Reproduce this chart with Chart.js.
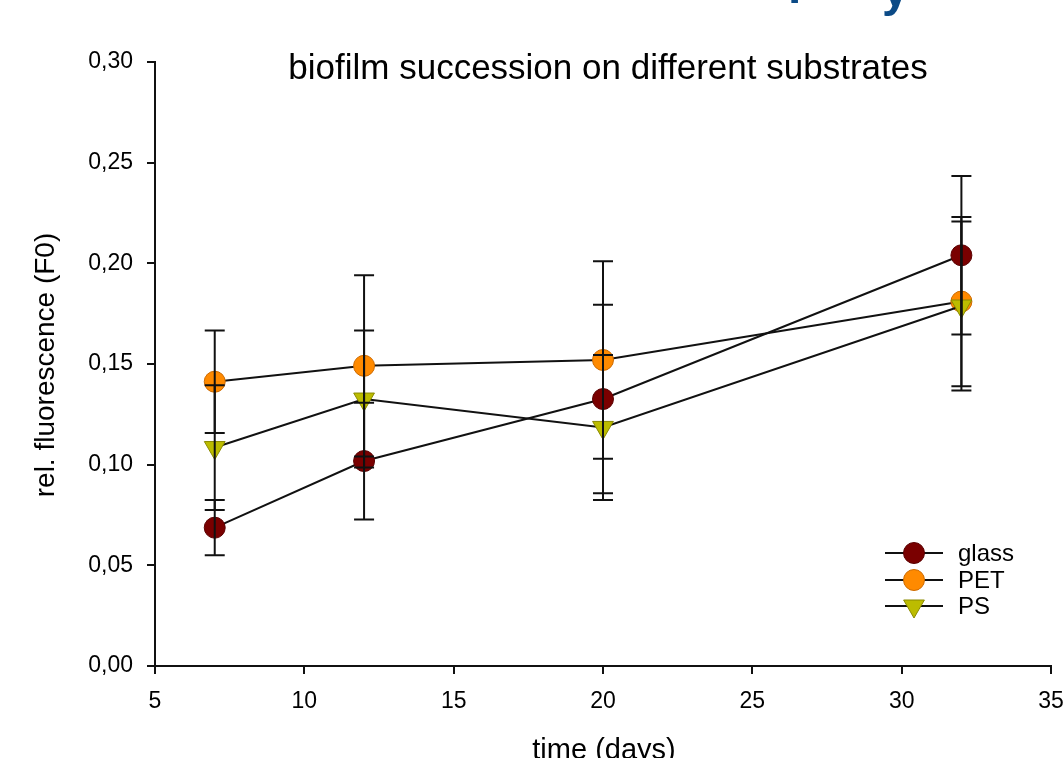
<!DOCTYPE html>
<html>
<head>
<meta charset="utf-8">
<script src="https://cdn.jsdelivr.net/npm/chart.js@4/dist/chart.umd.min.js"></script>
<style>
  html, body { margin: 0; padding: 0; background: #fff; }
  #wrap { position: relative; width: 1064px; height: 758px; overflow: hidden; }
</style>
</head>
<body>
<div id="wrap"><canvas id="line_chart" width="1064" height="758"></canvas></div>
<script>
// values
const days = [7, 12, 20, 32];
const glass = [0.0687, 0.1018, 0.1326, 0.204];
const glassErr = [0.0137, 0.029, 0.0468, 0.0394];
const pet = [0.1412, 0.1491, 0.152, 0.181];
const petErr = [0.0255, 0.045, 0.049, 0.042];
const ps = [0.1085, 0.1326, 0.1185, 0.1788];
const psErr = [0.031, 0.034, 0.036, 0.042];
const seriesNames = ['glass', 'PET', 'PS'];
const xTicks = [5, 10, 15, 20, 25, 30, 35];
const yTicks = [0, 0.05, 0.10, 0.15, 0.20, 0.25, 0.30];

const FONT = '"Liberation Sans", Arial, sans-serif';

function pts(vals) {
    return days.map((d, i) => ({ x: d, y: vals[i] }));
}

const errors = [glassErr, petErr, psErr];

// error bars + titles + legend, all drawn with the chart scales
const extras = {
    id: 'extras',
    afterDatasetsDraw(chart) {
        const ctx = chart.ctx;
        const xs = chart.scales.x, ys = chart.scales.y;
        ctx.save();
        ctx.strokeStyle = '#111';
        ctx.lineWidth = 2;
        chart.data.datasets.forEach((ds, i) => {
            ds.data.forEach((p, j) => {
                const e = errors[i][j];
                const x = xs.getPixelForValue(p.x);
                const y1 = ys.getPixelForValue(p.y + e);
                const y2 = ys.getPixelForValue(p.y - e);
                ctx.beginPath();
                ctx.moveTo(x, y1); ctx.lineTo(x, y2);
                ctx.moveTo(x - 10, y1); ctx.lineTo(x + 10, y1);
                ctx.moveTo(x - 10, y2); ctx.lineTo(x + 10, y2);
                ctx.stroke();
            });
        });
        ctx.restore();
    },
    afterDraw(chart) {
        const ctx = chart.ctx;
        ctx.save();
        ctx.fillStyle = '#000';
        ctx.textAlign = 'center';
        ctx.textBaseline = 'middle';
        ctx.font = '35px ' + FONT;
        ctx.fillText('biofilm succession on different substrates', 608, 69);
        ctx.font = '29px ' + FONT;
        ctx.fillText('time (days)', 604, 751);
        ctx.save();
        ctx.translate(46, 365);
        ctx.rotate(-Math.PI / 2);
        ctx.font = '28px ' + FONT;
        ctx.fillText('rel. fluorescence (F0)', 0, 0);
        ctx.restore();

        // legend
        const rows = [553, 580, 606];
        ctx.font = '24px ' + FONT;
        ctx.textAlign = 'left';
        chart.data.datasets.forEach((ds, i) => {
            const y = rows[i];
            ctx.strokeStyle = '#111';
            ctx.lineWidth = 2;
            ctx.beginPath();
            ctx.moveTo(885, y); ctx.lineTo(943, y);
            ctx.stroke();
            ctx.fillStyle = ds.pointBackgroundColor;
            ctx.strokeStyle = ds.pointBorderColor;
            ctx.lineWidth = ds.pointBorderWidth;
            Chart.helpers.drawPoint(ctx, {
                pointStyle: ds.pointStyle,
                radius: ds.pointRadius,
                rotation: ds.pointRotation || 0,
                borderWidth: ds.pointBorderWidth
            }, 914, y);
            ctx.fillStyle = '#000';
            ctx.fillText(seriesNames[i], 958, y + 1);
        });

        // cut-off slide heading above the chart (only descenders visible)
        ctx.fillStyle = '#0b4a86';
        ctx.font = 'bold 48px ' + FONT;
        ctx.textBaseline = 'alphabetic';
        ctx.fillText('p', 788, -7);
        ctx.fillText('y', 882, 6);
        ctx.restore();
    }
};

const ctx = document.getElementById('line_chart').getContext('2d');
new Chart(ctx, {
    type: 'scatter',
    data: {
        datasets: [{
            label: seriesNames[0],
            data: pts(glass),
            showLine: true,
            borderColor: '#111',
            borderWidth: 2,
            pointStyle: 'circle',
            pointRadius: 10.5,
            pointBackgroundColor: '#7a0000',
            pointBorderColor: '#5a0000',
            pointBorderWidth: 1,
            order: 3
        }, {
            label: seriesNames[1],
            data: pts(pet),
            showLine: true,
            borderColor: '#111',
            borderWidth: 2,
            pointStyle: 'circle',
            pointRadius: 10.5,
            pointBackgroundColor: '#ff8a00',
            pointBorderColor: '#cc6a00',
            pointBorderWidth: 1,
            order: 2
        }, {
            label: seriesNames[2],
            data: pts(ps),
            showLine: true,
            borderColor: '#111',
            borderWidth: 2,
            pointStyle: 'triangle',
            pointRotation: 180,
            pointRadius: 12,
            pointBackgroundColor: '#bcbc00',
            pointBorderColor: '#8a8a00',
            pointBorderWidth: 1,
            order: 1
        }]
    },
    options: {
        responsive: false,
        animation: false,
        layout: { padding: { top: 62, right: 13, left: 0, bottom: 0 } },
        plugins: {
            legend: { display: false },
            tooltip: { enabled: false },
            title: { display: false }
        },
        scales: {
            x: {
                type: 'linear',
                min: 5, max: 35,
                afterBuildTicks: s => { s.ticks = xTicks.map(v => ({ value: v })); },
                afterFit: s => { s.height = 92; s.paddingLeft = 0; s.paddingRight = 0; },
                border: { display: true, color: '#111', width: 2 },
                grid: { drawOnChartArea: false, drawTicks: true, tickLength: 8, color: '#111', lineWidth: 2 },
                ticks: { color: '#000', padding: 14, font: { family: FONT, size: 23 }, maxRotation: 0 }
            },
            y: {
                type: 'linear',
                min: 0, max: 0.30,
                afterBuildTicks: s => { s.ticks = yTicks.map(v => ({ value: v })); },
                afterFit: s => { s.width = 155; s.paddingTop = 0; s.paddingBottom = 0; },
                border: { display: true, color: '#111', width: 2 },
                grid: { drawOnChartArea: false, drawTicks: true, tickLength: 8, color: '#111', lineWidth: 2 },
                ticks: {
                    color: '#000', padding: 14, font: { family: FONT, size: 23 },
                    callback: v => v.toFixed(2).replace('.', ',')
                }
            }
        }
    },
    plugins: [extras]
});
</script>
</body>
</html>
